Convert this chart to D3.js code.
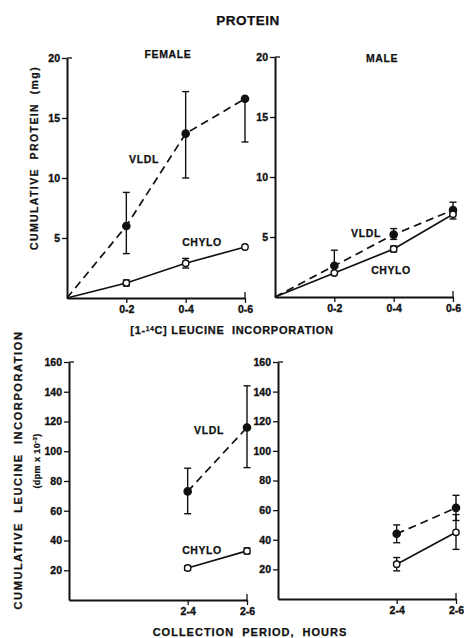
<!DOCTYPE html>
<html lang="en">
<head>
    <meta charset="UTF-8">
    <title>protein</title>
    <script src="https://cdn.jsdelivr.net/npm/d3@7"></script>
    <style>
        body { margin: 0; background: #fff; }
        text { font-family: "Liberation Sans", Arial, sans-serif; font-weight: bold; fill: #111; stroke: #111; stroke-width: 0.25px; }
        .axis text { font-size: 10.5px; stroke-width: 0.35px; }
        .axis path, .axis line { stroke: #111; }
    </style>
</head>
<body>
<script>
    // protein panels (x position 0 = origin of the cumulative lines)
    let protCats = ["0-2", "0-4", "0-6"];
    let protX = [2, 4, 6];
    let protTicks = [5, 10, 15, 20];

    let femaleVldl   = [6.0, 13.7, 16.6];
    let femaleVldlLo = [3.7, 10.0, 13.0];
    let femaleVldlHi = [8.8, 17.2, 16.6];
    let femaleChylo   = [1.25, 2.9, 4.25];
    let femaleChyloLo = [1.0, 2.5, 4.25];
    let femaleChyloHi = [1.5, 3.3, 4.25];

    let maleVldl   = [2.6, 5.2, 7.25];
    let maleVldlLo = [2.6, 4.8, 7.0];
    let maleVldlHi = [3.9, 5.7, 7.9];
    let maleChylo   = [2.0, 4.0, 6.9];
    let maleChyloLo = [2.0, 3.75, 6.5];
    let maleChyloHi = [2.0, 4.25, 7.1];

    // leucine panels
    let leuCats = ["2-4", "2-6"];
    let leuX = [4, 6];
    let leuTicks = [20, 40, 60, 80, 100, 120, 140, 160];

    let femaleLeuVldl   = [73, 116];
    let femaleLeuVldlLo = [58, 89];
    let femaleLeuVldlHi = [88.6, 144];
    let femaleLeuChylo   = [21.5, 33];
    let femaleLeuChyloLo = [20, 31];
    let femaleLeuChyloHi = [23, 35];

    let maleLeuVldl   = [44, 61.5];
    let maleLeuVldlLo = [38, 53];
    let maleLeuVldlHi = [50, 70];
    let maleLeuChylo   = [23.5, 45];
    let maleLeuChyloLo = [19, 33.5];
    let maleLeuChyloHi = [28, 57];

    let width = 464, height = 638;
    let svg = d3.select("body").append("svg")
        .attr("width", width)
        .attr("height", height);

    function rows(xs, v, lo, hi) {
        return xs.map(function (x, i) { return {x: x, y: v[i], lo: lo[i], hi: hi[i]}; });
    }

    function panel(p) {
        let x = d3.scaleLinear().domain([0, 6]).range([p.left, p.left + 178]);
        let y = d3.scaleLinear().domain([0, p.ymax]).range([p.bottom, p.top]);
        let g = svg.append("g");

        // y axis
        let ya = g.append("g").attr("class", "axis")
            .attr("transform", "translate(" + p.left + ",0)")
            .call(d3.axisLeft(y).tickValues(p.yticks).tickSize(5).tickSizeOuter(0).tickPadding(2));
        ya.select(".domain").attr("stroke-width", 2);
        ya.selectAll(".tick line").attr("stroke-width", 1.3);
        g.append("line")
            .attr("x1", p.left).attr("x2", p.left + 5)
            .attr("y1", y(p.ymax)).attr("y2", y(p.ymax))
            .attr("stroke", "#111").attr("stroke-width", 1.3);

        // x axis
        let xa = g.append("g").attr("class", "axis")
            .attr("transform", "translate(0," + p.bottom + ")")
            .call(d3.axisBottom(x).tickValues(p.xs)
                .tickFormat(function (d, i) { return p.cats[i]; })
                .tickSize(5).tickSizeOuter(0).tickPadding(3));
        xa.select(".domain").attr("stroke-width", 2);
        xa.selectAll(".tick line").attr("stroke-width", 1.3);
        g.append("line")
            .attr("x1", x(6)).attr("x2", x(6))
            .attr("y1", p.bottom).attr("y2", p.bottom - 6)
            .attr("stroke", "#111").attr("stroke-width", 1.3);

        let line = d3.line()
            .x(function (d) { return x(d.x); })
            .y(function (d) { return y(d.y); });

        p.series.forEach(function (s) {
            let pts = s.data.slice();
            if (p.fromOrigin) pts.unshift({x: 0, y: 0});
            g.append("path")
                .attr("d", line(pts))
                .attr("fill", "none")
                .attr("stroke", "#111")
                .attr("stroke-width", 1.7)
                .attr("stroke-dasharray", s.filled ? "8,5" : null);

            // error bars
            s.data.forEach(function (d) {
                if (d.hi - d.lo < 0.01 * p.ymax) return;
                g.append("line")
                    .attr("x1", x(d.x)).attr("x2", x(d.x))
                    .attr("y1", y(d.lo)).attr("y2", y(d.hi))
                    .attr("stroke", "#111").attr("stroke-width", 1.4);
                [d.lo, d.hi].forEach(function (v) {
                    if (v === d.y) return;
                    g.append("line")
                        .attr("x1", x(d.x) - 3.5).attr("x2", x(d.x) + 3.5)
                        .attr("y1", y(v)).attr("y2", y(v))
                        .attr("stroke", "#111").attr("stroke-width", 1.4);
                });
            });

            g.selectAll(null).data(s.data).enter().append("circle")
                .attr("cx", function (d) { return x(d.x); })
                .attr("cy", function (d) { return y(d.y); })
                .attr("r", s.filled ? 3.6 : 3.2)
                .attr("fill", s.filled ? "#111" : "#fff")
                .attr("stroke", "#111")
                .attr("stroke-width", 1.4);
        });

        p.labels.forEach(function (l) {
            g.append("text")
                .text(l.t)
                .attr("x", l.x).attr("y", l.y)
                .attr("text-anchor", "middle")
                .attr("font-size", l.size || "10.5px")
                .attr("letter-spacing", "0.6px");
        });
    }

    // top left: female protein
    panel({
        left: 67, bottom: 298, top: 58, ymax: 20, yticks: protTicks,
        xs: protX, cats: protCats, fromOrigin: true,
        series: [
            {filled: true, data: rows(protX, femaleVldl, femaleVldlLo, femaleVldlHi)},
            {filled: false, data: rows(protX, femaleChylo, femaleChyloLo, femaleChyloHi)}
        ],
        labels: [
            {t: "FEMALE", x: 168, y: 58},
            {t: "VLDL", x: 144, y: 163},
            {t: "CHYLO", x: 202, y: 246}
        ]
    });

    // top right: male protein
    panel({
        left: 275, bottom: 297, top: 57, ymax: 20, yticks: protTicks,
        xs: protX, cats: protCats, fromOrigin: true,
        series: [
            {filled: true, data: rows(protX, maleVldl, maleVldlLo, maleVldlHi)},
            {filled: false, data: rows(protX, maleChylo, maleChyloLo, maleChyloHi)}
        ],
        labels: [
            {t: "MALE", x: 382, y: 62},
            {t: "VLDL", x: 366, y: 237},
            {t: "CHYLO", x: 391, y: 274}
        ]
    });

    // bottom left: female leucine
    panel({
        left: 69, bottom: 600, top: 362, ymax: 160, yticks: leuTicks,
        xs: leuX, cats: leuCats, fromOrigin: false,
        series: [
            {filled: true, data: rows(leuX, femaleLeuVldl, femaleLeuVldlLo, femaleLeuVldlHi)},
            {filled: false, data: rows(leuX, femaleLeuChylo, femaleLeuChyloLo, femaleLeuChyloHi)}
        ],
        labels: [
            {t: "VLDL", x: 209, y: 434},
            {t: "CHYLO", x: 202, y: 554}
        ]
    });

    // bottom right: male leucine
    panel({
        left: 278, bottom: 599, top: 362, ymax: 160, yticks: leuTicks,
        xs: leuX, cats: leuCats, fromOrigin: false,
        series: [
            {filled: true, data: rows(leuX, maleLeuVldl, maleLeuVldlLo, maleLeuVldlHi)},
            {filled: false, data: rows(leuX, maleLeuChylo, maleLeuChyloLo, maleLeuChyloHi)}
        ],
        labels: []
    });

    // titles
    svg.append("text").text("PROTEIN")
        .attr("x", 248).attr("y", 25)
        .attr("text-anchor", "middle")
        .attr("font-size", "13.5px")
        .attr("letter-spacing", "0.5px");

    let xt = svg.append("text")
        .attr("x", 232).attr("y", 334)
        .attr("text-anchor", "middle")
        .attr("font-size", "11px")
        .attr("letter-spacing", "0.7px")
        .attr("xml:space", "preserve");
    xt.append("tspan").text("[1-");
    xt.append("tspan").text("14").attr("font-size", "6.5px").attr("dy", -3);
    xt.append("tspan").text("C] LEUCINE  INCORPORATION").attr("dy", 3);

    svg.append("text").text("CUMULATIVE  PROTEIN  (mg)")
        .attr("transform", "translate(38,158) rotate(-90)")
        .attr("text-anchor", "middle")
        .attr("font-size", "10.5px")
        .attr("letter-spacing", "1.4px")
        .attr("xml:space", "preserve");

    svg.append("text").text("CUMULATIVE  LEUCINE  INCORPORATION")
        .attr("transform", "translate(22,470) rotate(-90)")
        .attr("text-anchor", "middle")
        .attr("font-size", "11px")
        .attr("letter-spacing", "1.6px")
        .attr("xml:space", "preserve");

    let yu = svg.append("text")
        .attr("transform", "translate(40,461) rotate(-90)")
        .attr("text-anchor", "middle")
        .attr("font-size", "9px")
        .attr("letter-spacing", "0.4px")
        .attr("xml:space", "preserve");
    yu.append("tspan").text("(dpm x 10");
    yu.append("tspan").text("-3").attr("font-size", "6px").attr("dy", -3);
    yu.append("tspan").text(")").attr("dy", 3);

    svg.append("text").text("COLLECTION  PERIOD,  HOURS")
        .attr("x", 250).attr("y", 636)
        .attr("text-anchor", "middle")
        .attr("font-size", "11px")
        .attr("letter-spacing", "1px")
        .attr("xml:space", "preserve");
</script>
</body>
</html>
